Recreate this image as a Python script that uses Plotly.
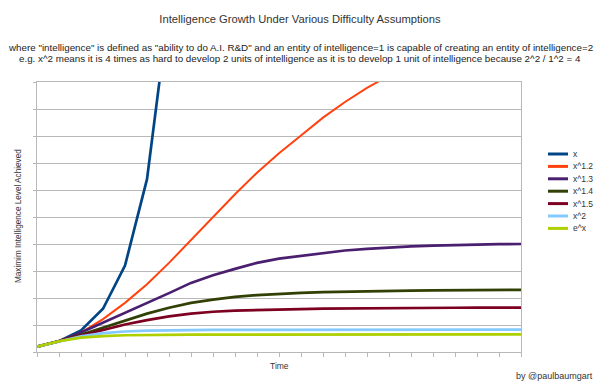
import plotly.graph_objects as go

# ---- data ----
time_steps = list(range(23))
series_names = ["x", "x^1.2", "x^1.3", "x^1.4", "x^1.5", "x^2", "e^x"]

x_lin = [1, 2, 4, 8, 16, 32, 64, 128, 256]
x_12 = [1, 2, 3.6, 6.1, 9.1, 12.55, 16.5, 20.8, 25.0, 29.2, 33.2, 36.8, 40.1,
        43.4, 46.3, 48.9, 51.2, 53.3, 55.1, 56.8, 58.3, 59.6, 60.8]
x_13 = [1, 2, 3.6, 5.4, 7.3, 9.1, 10.9, 12.8, 14.2, 15.4, 16.5, 17.3, 17.8,
        18.4, 18.8, 19.1, 19.35, 19.55, 19.7, 19.82, 19.92, 19.97, 20.0]
x_14 = [1, 2, 3.2, 4.5, 5.9, 7.1, 8.2, 9.1, 9.7, 10.2, 10.55, 10.8, 10.95,
        11.08, 11.18, 11.26, 11.32, 11.37, 11.41, 11.44, 11.47, 11.49, 11.5]
x_15 = [1, 2, 3.0, 4.1, 5.1, 5.9, 6.6, 7.1, 7.45, 7.65, 7.78, 7.87, 7.95,
        8.02, 8.07, 8.11, 8.14, 8.16, 8.18, 8.19, 8.2, 8.2, 8.2]
x_2 = [1, 2, 2.9, 3.5, 3.8, 3.95, 4.02, 4.06, 4.08, 4.09, 4.1, 4.1, 4.11,
       4.11, 4.12, 4.12, 4.12, 4.13, 4.13, 4.13, 4.13, 4.13, 4.13]
e_x = [1, 2, 2.65, 2.95, 3.1, 3.17, 3.2, 3.22, 3.23, 3.24, 3.24, 3.24, 3.25,
       3.25, 3.25, 3.25, 3.25, 3.25, 3.25, 3.25, 3.25, 3.25, 3.25]

series_values = [x_lin, x_12, x_13, x_14, x_15, x_2, e_x]
colors = ["#004586", "#ff420e", "#4b1f6f", "#314004", "#7e0021", "#83caff", "#aecf00"]
widths = [2.7, 2.0, 2.7, 2.7, 2.7, 2.7, 2.7]

title_text = "Intelligence Growth Under Various Difficulty Assumptions"
subtitle_1 = ('where "intelligence" is defined as "ability to do A.I. R&D" and an entity of '
              'intelligence=1 is capable of creating an entity of intelligence=2')
subtitle_2 = ('e.g. x^2 means it is 4 times as hard to develop 2 units of intelligence as it is '
              'to develop 1 unit of intelligence because 2^2 / 1^2 = 4')
x_title = "Time"
y_title = "Maximim Intelligence Level Achieved"
credit = "by @paulbaumgart"

# ---- layout geometry ----
W, H = 600, 383
L, R, T, B = 37, 79, 82, 31
PW, PH = W - L - R, H - T - B

def px(xp):
    return (xp - L) / PW

def py(yp):
    return (H - B - yp) / PH

FONT = "Liberation Sans, Arial, sans-serif"
GRID = "#b8b8b8"

fig = go.Figure()
for name, vals, col, w in zip(series_names, series_values, colors, widths):
    fig.add_trace(go.Scatter(
        x=time_steps[:len(vals)], y=vals, mode="lines", name=name,
        line=dict(color=col, width=w), showlegend=False, cliponaxis=True,
        hoverinfo="skip",
    ))

shapes = []
annotations = []
# custom legend
for i, (name, col) in enumerate(zip(series_names, colors)):
    yl = 154 + 12.4 * i
    shapes.append(dict(type="line", xref="paper", yref="paper",
                       x0=px(548), x1=px(568), y0=py(yl), y1=py(yl),
                       line=dict(color=col, width=3)))
    annotations.append(dict(text=name, xref="paper", yref="paper",
                            x=px(571), y=py(yl), xanchor="left", yanchor="middle",
                            showarrow=False, font=dict(size=8.5, color="#333333", family=FONT)))

annotations += [
    dict(text=subtitle_1, xref="paper", yref="paper", x=px(300), y=py(47),
         xanchor="center", yanchor="middle", showarrow=False,
         font=dict(size=9.8, color="#222222", family=FONT)),
    dict(text=subtitle_2, xref="paper", yref="paper", x=px(300), y=py(59),
         xanchor="center", yanchor="middle", showarrow=False,
         font=dict(size=9.8, color="#222222", family=FONT)),
    dict(text=x_title, xref="paper", yref="paper", x=px(279), y=py(366),
         xanchor="center", yanchor="middle", showarrow=False,
         font=dict(size=8.5, color="#333333", family=FONT)),
    dict(text=y_title, xref="paper", yref="paper", x=px(18), y=py(216),
         xanchor="center", yanchor="middle", showarrow=False, textangle=-90,
         font=dict(size=8.2, color="#333333", family=FONT)),
    dict(text=credit, xref="paper", yref="paper", x=px(595), y=py(376),
         xanchor="right", yanchor="middle", showarrow=False,
         font=dict(size=9, color="#333333", family=FONT)),
]

fig.update_layout(
    width=W, height=H,
    margin=dict(l=L, r=R, t=T, b=B),
    paper_bgcolor="white", plot_bgcolor="white",
    title=dict(text=title_text, x=0.5, xref="container", xanchor="center",
               y=1 - 19 / H, yref="container", yanchor="middle",
               font=dict(size=11.2, color="#333333", family=FONT)),
    shapes=shapes, annotations=annotations,
    showlegend=False,
    hovermode=False,
    xaxis=dict(range=[0, 22], dtick=1, tick0=0, showticklabels=False,
               ticks="outside", ticklen=4, tickcolor=GRID, showgrid=False,
               showline=True, linecolor=GRID, linewidth=1, mirror=True, zeroline=False),
    yaxis=dict(range=[0, 50], dtick=5, tick0=0, showticklabels=False,
               ticks="outside", ticklen=3, tickcolor=GRID, showgrid=True,
               gridcolor=GRID, gridwidth=1,
               showline=True, linecolor=GRID, linewidth=1, mirror=True, zeroline=False),
)

fig.write_html("out.html", config={"displayModeBar": False},
               post_script="document.body.style.margin='0';document.body.style.padding='0';")
